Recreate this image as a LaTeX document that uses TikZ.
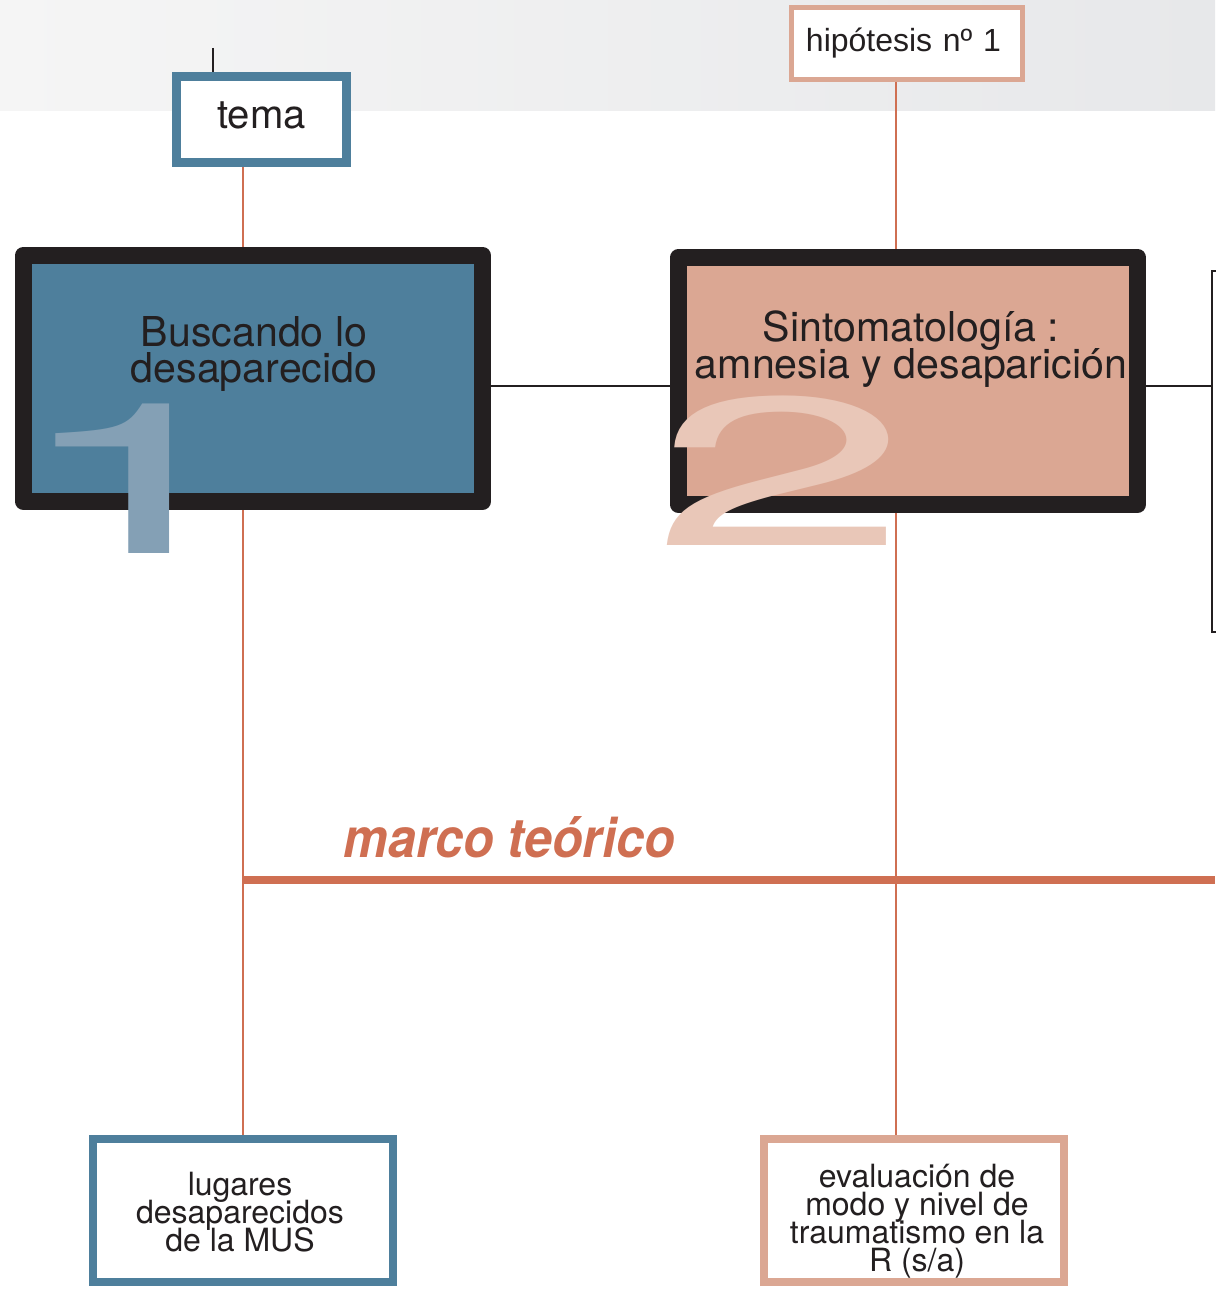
\documentclass[tikz,border=0pt]{standalone}
\usepackage{fontspec}
\setmainfont{TeX Gyre Heros}
\newfontfamily\ordfont{Liberation Sans}
\definecolor{inkdark}{HTML}{231F20}
\definecolor{steel}{HTML}{4E7F9C}
\definecolor{salmon}{HTML}{DBA793}
\definecolor{rust}{HTML}{CF6F52}
\definecolor{steellight}{HTML}{84A0B5}
\definecolor{salmonlight}{HTML}{E9C7B8}
\definecolor{bandleft}{HTML}{F5F5F5}
\definecolor{bandright}{HTML}{E7E8EA}
\newcommand\tightlines{\lineskiplimit=-20pt\relax}
\begin{document}
\begin{tikzpicture}[
  x=0.01cm, y=-0.01cm,
  every node/.style={text=inkdark},
  bigbox/.style={draw=inkdark, line width=0.17cm, line join=round,
    minimum width=4.59cm, inner sep=0pt},
  bigtext/.style={align=center, inner sep=0pt,
    font=\fontsize{11.7}{10.5}\selectfont\tightlines},
  smallbox/.style={line width=0.08cm, fill=white, minimum width=3cm,
    minimum height=1.43cm, inner sep=0pt},
  smalltext/.style={align=center, inner sep=0pt,
    font=\fontsize{9.1}{8}\selectfont\tightlines},
  bignum/.style={anchor=south, inner sep=0pt,
    font=\fontsize{60}{60}\selectfont},
  rustline/.style={draw=rust, line width=0.02cm},
  inkline/.style={draw=inkdark, line width=0.015cm}]
\useasboundingbox (0,0) rectangle (1215,1292);
\fill[left color=bandleft, right color=bandright] (0,0) rectangle (1215,111);

%% top labels
\node [draw=steel, line width=0.09cm, fill=white, minimum width=1.7cm,
  minimum height=0.86cm, inner sep=0pt, text height=0.29cm, text depth=0.1cm,
  font=\fontsize{11.4}{12}\selectfont] (tema) at (261.5,119.5) {tema};
\node [draw=salmon, line width=0.05cm, fill=white, text width=2.02cm,
  inner xsep=0.145cm, minimum height=0.72cm, align=left,
  font=\fontsize{9.1}{10}\selectfont\ordfont] (hyp) at (907,43.5) {hipótesis nº 1};

%% main boxes
\node [bigbox, fill=steel, minimum height=2.46cm] (b1) at (253,378.5) {};
\node [bigtext] (t1) at (254,354) {Buscando lo\\desaparecido};
\node [bigbox, fill=salmon, minimum height=2.47cm] (b2) at (908,381) {};
\node [bigtext] (t2) at (911,349.5) {Sintomatología :\\amnesia y desaparición};

%% bottom boxes
\node [smallbox, draw=steel] (lugares) at (243,1210.5) {};
\node [smalltext] (t3) at (240,1212) {lugares\\desaparecidos\\de la MUS};
\node [smallbox, draw=salmon] (eval) at (914,1210.5) {};
\node [smalltext] (t4) at (917,1221)
  {evaluación de\\modo y nivel de\\traumatismo en la\\R (s/a)};

\coordinate (stub) at (213,48);
\coordinate (bk) at (1212,386);
\coordinate (bktop) at (1212,271);
\coordinate (bkbot) at (1212,632);
\coordinate (mtend) at (1215,880);

\draw [line width=0.025cm, inkdark] (stub) -- (stub |- tema.north);
\draw [rustline] (lugares.north |- tema.south) -- (lugares.north |- b1.north);
\draw [rustline] (lugares.north |- b1.south) -- (lugares.north);
\draw [rustline] ([xshift=-0.11cm]hyp.south)
  -- ([xshift=-0.11cm]hyp.south |- b2.north);
\draw [rustline] ([xshift=-0.11cm]hyp.south |- b2.south)
  -- ([xshift=-0.11cm]hyp.south |- eval.north);
\draw [inkline] (b1.east |- bk) -- (b2.west |- bk);
\draw [inkline] (b2.east |- bk) -- (bk);
\draw [inkline] ([xshift=0.04cm]bktop) -- (bktop) -- (bkbot)
  -- ([xshift=0.04cm]bkbot);

%% marco teorico
\draw [rust, line width=0.08cm] (lugares.north |- mtend) -- (mtend);
\node [anchor=base west, inner sep=0pt, text=rust,
  font=\fontsize{15.5}{16}\selectfont\bfseries\itshape]
  (marco) at (343,857) {\scalebox{0.92}[1]{marco teórico}};

%% big numbers
\node [bignum, text=steellight] (n1) at (138,554) {\scalebox{2.2}[1]{1}};
\node [bignum, text=salmonlight] (n2) at (781,546) {\scalebox{2.2}[1]{2}};
\end{tikzpicture}
\end{document}
